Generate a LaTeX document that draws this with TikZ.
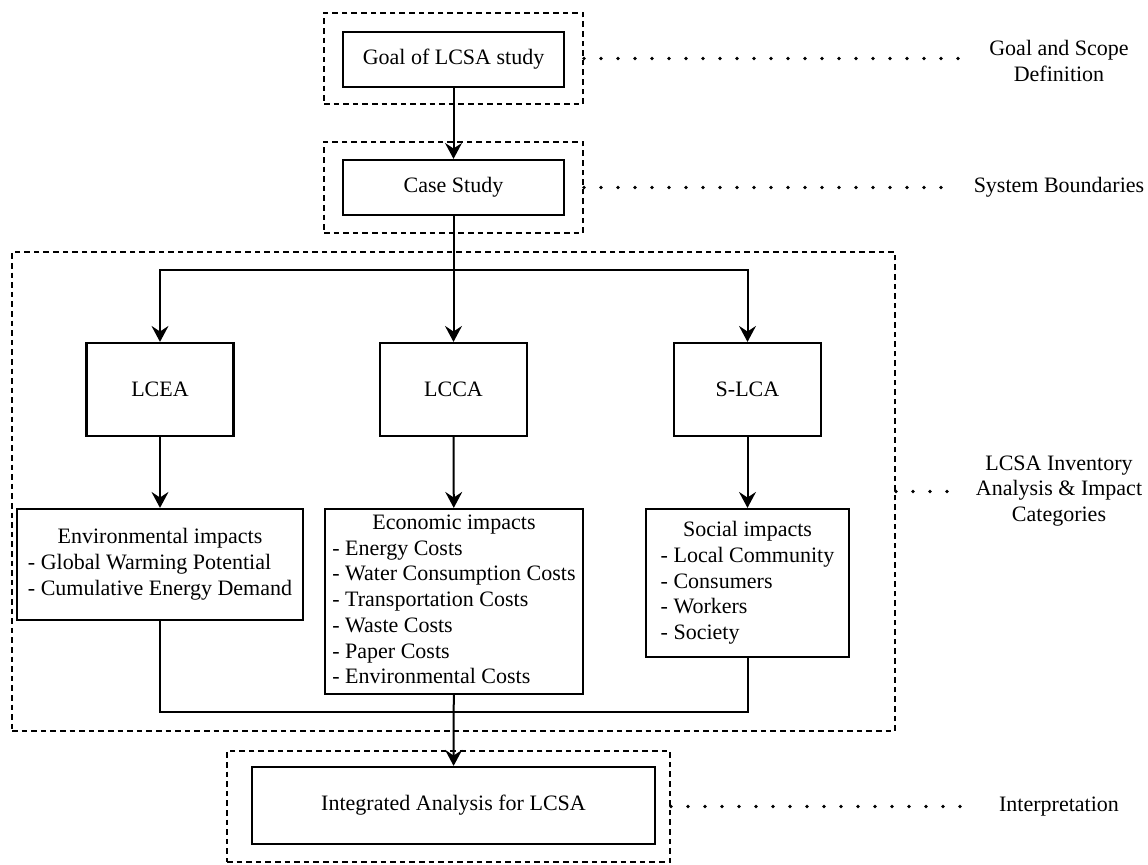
\documentclass[tikz,border=0pt]{standalone}
\usepackage{fontspec}
\setmainfont{Liberation Serif}
\usetikzlibrary{arrows.meta}
\tikzstyle{procbox}=[draw,line width=1.1pt,fill=white,inner sep=0pt,align=center,font=\fontsize{11}{12.85}\selectfont]
\tikzstyle{grpbox}=[draw,line width=1pt,dash pattern=on 2.8pt off 2pt,inner sep=0pt]
\tikzstyle{dotlink}=[line width=1.9pt,line cap=round,dash pattern=on 0pt off 8.5pt,shorten >=13pt]
\tikzstyle{sidelabel}=[align=center,inner sep=0pt,font=\fontsize{11}{12.85}\selectfont]
\tikzstyle{arr}=[line width=1pt,-{Stealth[length=8pt,width=8.5pt,inset=2.8pt]}]
\tikzstyle{wire}=[line width=1pt]

\begin{document}
\begin{tikzpicture}[x=0.5pt,y=-0.5pt]
    \useasboundingbox (0,0) rectangle (1148,864);
    % dashed groups
    \node[grpbox,minimum width=129.5pt,minimum height=45.5pt] (goalgrp) at (453.5,58.5) {};
    \node[grpbox,minimum width=129.5pt,minimum height=45.5pt] (casegrp) at (453.5,187.5) {};
    \node[grpbox,minimum width=441.5pt,minimum height=239.5pt] (invgrp) at (453.5,491.5) {};
    \node[grpbox,minimum width=221.5pt,minimum height=55.5pt] (integgrp) at (448.5,806.5) {};

    \node[procbox,minimum width=110.5pt,minimum height=27.5pt] (goal) at (453.5,59.5) {Goal of LCSA study};
    \node[procbox,minimum width=110.5pt,minimum height=27.5pt] (case) at (453.5,187.5) {Case Study};

    \node[procbox,minimum width=73.5pt,minimum height=46.5pt] (lcea) at (160,389.5) {LCEA};
    \node[procbox,minimum width=73.5pt,minimum height=46.5pt] (lcca) at (453.5,389.5) {LCCA};
    \node[procbox,minimum width=73.5pt,minimum height=46.5pt] (slca) at (747.5,389.5) {S-LCA};

    \node[procbox,minimum width=143pt,minimum height=55.5pt] (env) at (160,564.5) {\begin{tabular}{@{}l@{}}\multicolumn{1}{@{}c@{}}{Environmental impacts}\\- Global Warming Potential\\- Cumulative Energy Demand\end{tabular}};
    \node[procbox,minimum width=129pt,minimum height=92.5pt] (econ) at (454,601.5) {\begin{tabular}{@{}l@{}}\multicolumn{1}{@{}c@{}}{Economic impacts}\\- Energy Costs\\- Water Consumption Costs\\- Transportation Costs\\- Waste Costs\\- Paper Costs\\- Environmental Costs\end{tabular}};
    \node[procbox,minimum width=101.5pt,minimum height=74pt] (soc) at (747.5,583) {\begin{tabular}{@{}l@{}}\multicolumn{1}{@{}c@{}}{Social impacts}\\- Local Community\\- Consumers\\- Workers\\- Society\end{tabular}};

    \node[procbox,minimum width=201.5pt,minimum height=38.5pt] (integ) at (453.5,805.5) {Integrated Analysis for LCSA};

    % right-hand stage labels
    \node[sidelabel] (gslbl) at (1059,61) {Goal and Scope\\Definition};
    \node[sidelabel] (sblbl) at (1059,187.5) {System Boundaries};
    \node[sidelabel] (invlbl) at (1059,491) {LCSA Inventory\\Analysis \& Impact\\Categories};
    \node[sidelabel] (intlbl) at (1059,807) {Interpretation};

    \foreach \grp/\lbl in {goalgrp/gslbl,casegrp/sblbl,invgrp/invlbl,integgrp/intlbl}
    \draw[dotlink] (\grp.east) -- (\grp.east -| \lbl.west);

    % flow
    \coordinate (split) at (453.5,270);
    \coordinate (merge) at (453.5,712);
    \draw[wire] (case.south) -- (split);
    \draw[arr] (split) -| (lcea);
    \draw[arr] (split) -| (slca);
    \draw[arr] (split) -- (lcca);
    \draw[wire] (env.south) |- (merge) -| (soc.south);

    \foreach \from/\to in {goal/case,lcea/env,lcca/econ,slca/soc,econ/integ}
    \draw[arr] (\from) -- (\to);
\end{tikzpicture}
\end{document}
